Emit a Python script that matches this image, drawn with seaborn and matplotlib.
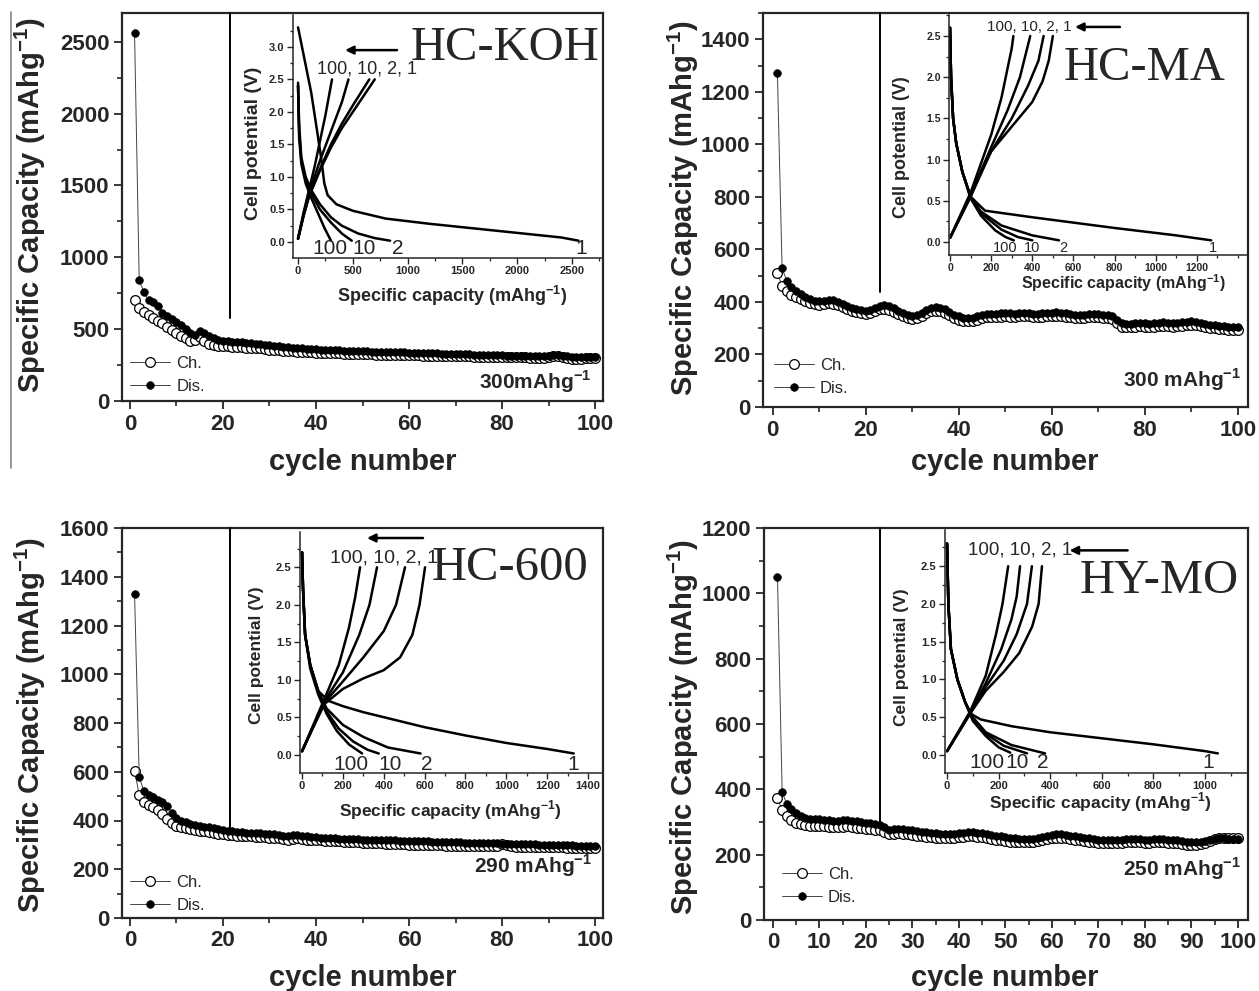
import numpy as np
import matplotlib
matplotlib.use('Agg')
import matplotlib.pyplot as plt
import seaborn as sns
from matplotlib.lines import Line2D
from matplotlib.ticker import MultipleLocator

sns.set_style('ticks')
plt.rcParams['font.family'] = ['Liberation Sans', 'DejaVu Sans']
plt.rcParams['font.weight'] = 'bold'
plt.rcParams['mathtext.fontset'] = 'custom'
plt.rcParams['mathtext.rm'] = 'Liberation Sans'
plt.rcParams['mathtext.bf'] = 'Liberation Sans:bold'

# cycle numbers
cycles = np.arange(1, 101)

# HC-KOH (top left)
koh_dis = [2560, 840, 760, 700, 690, 660, 610, 590, 570, 550,
           530, 500, 470, 460, 490, 470, 450, 435, 425, 420,
           416, 413, 410, 408, 405, 402, 400, 397, 392, 388,
           385, 380, 377, 373, 370, 368, 366, 364, 362, 360,
           358, 356, 355, 354, 352, 350, 349, 348, 347, 346,
           345, 344, 343, 343, 342, 341, 340, 339, 338, 337,
           336, 335, 334, 333, 332, 331, 330, 329, 328, 327,
           326, 325, 324, 323, 322, 321, 320, 319, 318, 317,
           316, 315, 314, 313, 313, 312, 311, 311, 310, 312,
           318, 320, 316, 312, 308, 306, 305, 304, 305, 306]
koh_ch = [700, 650, 620, 600, 580, 560, 540, 515, 495, 475,
          455, 435, 420, 425, 445, 420, 400, 390, 385, 382,
          380, 378, 376, 374, 372, 370, 368, 366, 362, 358,
          355, 352, 350, 348, 346, 344, 342, 340, 338, 336,
          335, 334, 333, 332, 331, 330, 329, 328, 327, 326,
          325, 324, 323, 323, 322, 321, 320, 320, 319, 318,
          318, 317, 316, 316, 315, 314, 314, 313, 312, 312,
          311, 310, 310, 309, 308, 308, 307, 306, 306, 305,
          305, 304, 304, 303, 303, 302, 302, 301, 301, 303,
          310, 314, 306, 298, 292, 290, 292, 296, 300, 302]

# HC-MA (top right)
ma_dis = [1270, 530, 480, 455, 440, 430, 420, 412, 405, 402,
          405, 408, 406, 400, 392, 385, 378, 372, 368, 366,
          370, 378, 385, 388, 384, 376, 366, 358, 352, 348,
          350, 358, 368, 376, 380, 378, 372, 362, 352, 345,
          340, 338, 340, 345, 350, 353, 355, 355, 356, 357,
          356, 355, 357, 358, 357, 355, 354, 356, 358, 359,
          360, 358, 356, 354, 352, 350, 352, 354, 355, 354,
          352, 350, 348, 330, 318, 315, 316, 318, 320, 318,
          316, 318, 320, 322, 320, 318, 320, 322, 325, 326,
          324, 320, 316, 314, 312, 310, 308, 306, 305, 304]
ma_ch = [510, 460, 440, 428, 418, 410, 402, 396, 392, 390,
         392, 395, 393, 388, 380, 373, 366, 360, 356, 354,
         357, 365, 372, 375, 371, 363, 354, 346, 340, 336,
         338, 346, 356, 364, 367, 365, 359, 349, 340, 333,
         328, 326, 328, 333, 338, 341, 343, 343, 344, 345,
         344, 343, 345, 346, 345, 343, 342, 344, 346, 347,
         348, 346, 344, 342, 340, 338, 340, 342, 343, 342,
         340, 338, 336, 318, 306, 303, 304, 306, 308, 306,
         304, 306, 308, 310, 308, 306, 308, 310, 313, 314,
         312, 308, 304, 302, 300, 298, 296, 294, 293, 292]

# HC-600 (bottom left)
hc600_dis = [1330, 580, 520, 505, 495, 485, 475, 460, 432, 410,
             400, 392, 386, 381, 378, 375, 372, 368, 365, 362,
             358, 356, 354, 352, 350, 349, 348, 347, 346, 345,
             344, 342, 338, 335, 340, 342, 338, 335, 333, 332,
             330, 329, 328, 327, 326, 325, 325, 324, 323, 322,
             322, 321, 320, 320, 319, 318, 318, 317, 316, 316,
             315, 315, 314, 314, 313, 312, 312, 311, 311, 310,
             310, 309, 309, 308, 308, 307, 307, 306, 306, 305,
             305, 304, 304, 303, 303, 302, 302, 301, 301, 300,
             300, 299, 299, 298, 298, 297, 297, 296, 296, 296]
hc600_ch = [605, 505, 475, 465, 455, 442, 428, 405, 388, 378,
            372, 368, 364, 360, 358, 355, 352, 349, 346, 344,
            342, 340, 338, 337, 336, 335, 334, 333, 332, 330,
            329, 328, 326, 322, 326, 330, 325, 322, 320, 319,
            318, 317, 316, 315, 314, 313, 312, 311, 310, 309,
            308, 307, 306, 306, 305, 304, 303, 303, 302, 301,
            301, 300, 300, 299, 299, 298, 298, 297, 297, 296,
            296, 296, 295, 295, 295, 294, 294, 294, 296, 302,
            298, 294, 293, 293, 292, 292, 292, 291, 291, 291,
            290, 290, 290, 289, 289, 289, 289, 288, 288, 288]

# HY-MO (bottom right)
hymo_dis = [1050, 392, 355, 340, 328, 318, 312, 310, 310, 308,
            306, 305, 304, 303, 305, 306, 304, 302, 300, 298,
            296, 294, 292, 285, 275, 278, 280, 278, 276, 274,
            272, 270, 268, 267, 265, 264, 263, 262, 263, 265,
            266, 268, 268, 267, 265, 263, 260, 258, 256, 254,
            252, 250, 249, 248, 248, 249, 252, 255, 258, 260,
            262, 262, 260, 258, 256, 254, 252, 250, 248, 246,
            245, 244, 244, 245, 246, 247, 248, 248, 247, 246,
            246, 247, 248, 247, 246, 245, 244, 242, 240, 238,
            238, 240, 243, 246, 248, 250, 250, 249, 248, 248]
hymo_ch = [372, 338, 318, 305, 298, 293, 290, 289, 289, 288,
           287, 286, 285, 284, 286, 287, 285, 283, 281, 280,
           278, 276, 274, 268, 262, 264, 266, 264, 262, 260,
           258, 256, 255, 254, 252, 251, 250, 250, 252, 254,
           255, 256, 256, 255, 253, 251, 248, 246, 244, 242,
           240, 239, 238, 238, 238, 240, 243, 246, 249, 251,
           252, 252, 250, 248, 246, 244, 242, 240, 238, 237,
           236, 235, 235, 236, 237, 238, 239, 239, 238, 237,
           237, 238, 239, 238, 237, 236, 235, 233, 231, 230,
           230, 232, 236, 242, 248, 252, 252, 250, 250, 250]

# inset voltage profiles: (capacity mAh/g, potential V), cycles 1, 2, 10, 100
koh_d1 = [(0, 3.3), (60, 2.8), (120, 2.3), (170, 1.75), (210, 1.3), (240, 0.9), (270, 0.72),
          (350, 0.58), (500, 0.48), (800, 0.36), (1200, 0.28), (1600, 0.21), (2000, 0.14),
          (2400, 0.07), (2560, 0.02)]
koh_d2 = [(0, 2.45), (10, 1.8), (30, 1.3), (70, 1.0), (120, 0.8), (200, 0.58), (300, 0.38),
          (400, 0.25), (550, 0.13), (700, 0.06), (840, 0.02)]
koh_d10 = [(0, 2.4), (10, 1.7), (30, 1.25), (70, 0.95), (120, 0.75), (200, 0.5), (300, 0.3),
           (400, 0.13), (490, 0.02)]
koh_d100 = [(0, 2.4), (10, 1.6), (30, 1.2), (70, 0.9), (120, 0.68), (180, 0.45), (240, 0.22),
            (300, 0.02)]
koh_c1 = [(0, 0.05), (50, 0.4), (100, 0.7), (200, 1.1), (300, 1.45), (400, 1.75), (500, 2.0),
          (600, 2.25), (700, 2.5)]
koh_c2 = [(0, 0.05), (50, 0.4), (100, 0.7), (200, 1.12), (300, 1.5), (400, 1.82), (500, 2.1),
          (650, 2.5)]
koh_c10 = [(0, 0.05), (50, 0.42), (100, 0.75), (200, 1.25), (300, 1.7), (400, 2.15), (460, 2.5)]
koh_c100 = [(0, 0.05), (50, 0.45), (100, 0.8), (150, 1.15), (200, 1.55), (250, 1.95), (310, 2.5)]

ma_d1 = [(0, 2.6), (5, 2.0), (15, 1.5), (30, 1.2), (60, 0.85), (100, 0.55), (170, 0.38),
         (400, 0.3), (800, 0.17), (1100, 0.08), (1270, 0.02)]
ma_d2 = [(0, 2.6), (5, 2.0), (15, 1.5), (30, 1.2), (60, 0.85), (100, 0.55), (150, 0.37),
         (250, 0.2), (400, 0.08), (530, 0.02)]
ma_d10 = [(0, 2.6), (5, 2.0), (15, 1.5), (30, 1.2), (60, 0.85), (100, 0.55), (150, 0.35),
          (250, 0.15), (330, 0.06), (400, 0.02)]
ma_d100 = [(0, 2.6), (5, 2.0), (15, 1.5), (30, 1.2), (60, 0.85), (100, 0.53), (150, 0.32),
           (220, 0.14), (270, 0.06), (310, 0.02)]
ma_c1 = [(0, 0.05), (50, 0.3), (100, 0.55), (150, 0.85), (200, 1.1), (300, 1.4), (400, 1.7),
         (450, 1.95), (480, 2.2), (500, 2.5)]
ma_c2 = [(0, 0.05), (100, 0.55), (200, 1.1), (300, 1.5), (380, 1.9), (430, 2.2), (455, 2.5)]
ma_c10 = [(0, 0.05), (100, 0.57), (200, 1.15), (280, 1.6), (340, 2.0), (390, 2.5)]
ma_c100 = [(0, 0.05), (100, 0.6), (200, 1.3), (250, 1.75), (300, 2.35), (308, 2.5)]

hc600_d1 = [(0, 2.7), (5, 2.2), (15, 1.6), (40, 1.2), (80, 0.85), (130, 0.72), (200, 0.65),
            (300, 0.57), (450, 0.47), (600, 0.37), (800, 0.26), (1000, 0.16), (1200, 0.08),
            (1330, 0.02)]
hc600_d2 = [(0, 2.7), (5, 2.2), (15, 1.6), (40, 1.2), (80, 0.85), (120, 0.62), (200, 0.4),
            (300, 0.24), (420, 0.1), (580, 0.02)]
hc600_d10 = [(0, 2.7), (5, 2.2), (15, 1.6), (40, 1.2), (80, 0.82), (120, 0.58), (180, 0.35),
             (250, 0.18), (320, 0.07), (375, 0.02)]
hc600_d100 = [(0, 2.7), (5, 2.2), (15, 1.6), (40, 1.15), (80, 0.8), (120, 0.55), (170, 0.32),
              (230, 0.14), (294, 0.02)]
hc600_c1 = [(0, 0.05), (60, 0.4), (110, 0.68), (200, 0.88), (300, 1.02), (400, 1.13), (480, 1.3),
            (540, 1.6), (575, 2.0), (602, 2.5)]
hc600_c2 = [(0, 0.05), (110, 0.7), (200, 0.98), (300, 1.3), (400, 1.65), (460, 2.0), (504, 2.5)]
hc600_c10 = [(0, 0.05), (110, 0.72), (200, 1.1), (280, 1.6), (330, 2.0), (367, 2.5)]
hc600_c100 = [(0, 0.05), (110, 0.75), (180, 1.2), (230, 1.7), (260, 2.1), (284, 2.5)]

hymo_d1 = [(0, 2.8), (5, 2.0), (15, 1.4), (40, 1.0), (70, 0.7), (90, 0.55), (130, 0.47),
           (250, 0.38), (400, 0.3), (600, 0.22), (800, 0.14), (1000, 0.05), (1050, 0.02)]
hymo_d2 = [(0, 2.8), (5, 2.0), (15, 1.4), (40, 1.0), (70, 0.7), (100, 0.5), (150, 0.3),
           (250, 0.13), (380, 0.02)]
hymo_d10 = [(0, 2.8), (5, 2.0), (15, 1.4), (40, 1.0), (70, 0.7), (100, 0.48), (150, 0.28),
            (220, 0.12), (310, 0.02)]
hymo_d100 = [(0, 2.8), (5, 2.0), (15, 1.4), (40, 1.0), (70, 0.7), (100, 0.45), (150, 0.25),
             (200, 0.1), (245, 0.03)]
hymo_c1 = [(0, 0.05), (90, 0.55), (150, 0.85), (220, 1.1), (280, 1.35), (330, 1.7), (355, 2.0),
           (368, 2.5)]
hymo_c2 = [(0, 0.05), (90, 0.55), (150, 0.9), (220, 1.25), (270, 1.6), (310, 2.0), (329, 2.5)]
hymo_c10 = [(0, 0.05), (90, 0.56), (150, 0.95), (210, 1.4), (250, 1.8), (270, 2.1), (283, 2.5)]
hymo_c100 = [(0, 0.05), (90, 0.58), (150, 1.05), (190, 1.6), (215, 2.0), (237, 2.5)]

W, H = 1259.0, 991.0
fig = plt.figure(figsize=(12.59, 9.91), dpi=100)


def px_axes(l, t, r, b):
    return fig.add_axes([l / W, 1 - b / H, (r - l) / W, (b - t) / H])


def fig_text(x, y, s, **kw):
    fig.text(x / W, 1 - y / H, s, **kw)


def main_panel(rect, xlim, ch, dis, ylim, ymaj, xmaj, rate, rate_xy, leg_xy):
    ax = px_axes(*rect)
    sns.lineplot(x=cycles, y=ch, ax=ax, sort=False, estimator=None, color='#444444', lw=0.7,
                 marker='o', ms=7, mfc='white', mec='black', mew=0.9, label='Ch.')
    sns.lineplot(x=cycles, y=dis, ax=ax, sort=False, estimator=None, color='#444444', lw=0.7,
                 marker='o', ms=5.5, mfc='black', mec='black', mew=0.5, label='Dis.')
    ax.set_xlim(*xlim)
    ax.set_ylim(*ylim)
    ax.set_xticks(np.arange(0, 101, xmaj))
    ax.xaxis.set_minor_locator(MultipleLocator(xmaj / 2))
    ax.set_yticks(np.arange(0, ylim[1] + 1, ymaj))
    ax.yaxis.set_minor_locator(MultipleLocator(ymaj / 2))
    ax.tick_params(which='major', direction='out', length=6, width=1.3, labelsize=16, pad=3)
    ax.tick_params(which='minor', direction='out', length=3.5, width=1.2)
    for sp in ax.spines.values():
        sp.set_linewidth(1.6)
        sp.set_visible(True)
    ax.set_xlabel('')
    ax.set_ylabel('')
    ax.text(rate_xy[0], rate_xy[1], rate, transform=ax.transAxes, ha='right', va='center',
            fontsize=15, fontweight='bold')
    ax.legend(loc='lower left', bbox_to_anchor=leg_xy, frameon=False, borderpad=0,
              handlelength=2.4, handletextpad=0.35, labelspacing=0.45,
              prop={'size': 12, 'weight': 'normal'})
    return ax


def draw_curve(ax, pts, lw=1.8):
    sns.lineplot(x=[p[0] for p in pts], y=[p[1] for p in pts], ax=ax, sort=False,
                 estimator=None, color='black', lw=lw)


def inset(rect, xlim, ylim, xmaj, curves, ylab_xy, xlab_xy, ylab_size, xlab_size, tick_size):
    ax = px_axes(*rect)
    ax.set_facecolor('none')
    for c in curves:
        draw_curve(ax, c)
    ax.set_xlim(*xlim)
    ax.set_ylim(*ylim)
    ax.set_xticks(np.arange(0, xlim[1] - xmaj * 0.3, xmaj))
    ax.xaxis.set_minor_locator(MultipleLocator(xmaj / 2))
    ax.set_yticks(np.arange(0, ylim[1] - 0.2, 0.5))
    ax.yaxis.set_minor_locator(MultipleLocator(0.25))
    ax.tick_params(which='major', direction='out', length=4, width=1.0, labelsize=tick_size, pad=2)
    ax.tick_params(which='minor', direction='out', length=2, width=0.9)
    ax.set_yticklabels(['%.1f' % v for v in ax.get_yticks()])
    ax.spines['top'].set_visible(False)
    ax.spines['right'].set_visible(False)
    for s in ('left', 'bottom'):
        ax.spines[s].set_linewidth(1.1)
    ax.set_xlabel('')
    ax.set_ylabel('')
    fig_text(ylab_xy[0], ylab_xy[1], 'Cell potential (V)', rotation=90, ha='center', va='center',
             fontsize=ylab_size, fontweight='bold')
    fig_text(xlab_xy[0], xlab_xy[1], r'Specific capacity (mAhg$^{\mathbf{-1}}$)', ha='center',
             va='center', fontsize=xlab_size, fontweight='bold')
    return ax


# main panels
ax1 = main_panel((122, 13, 603, 401), (-1.7, 101.7), koh_ch, koh_dis, (0, 2700), 500, 20,
                 r'300mAhg$^{\mathbf{-1}}$', (0.975, 0.05), (0.0, -0.003))
ax2 = main_panel((763, 13, 1248, 407), (-2.1, 102.2), ma_ch, ma_dis, (0, 1500), 200, 20,
                 r'300 mAhg$^{\mathbf{-1}}$', (0.985, 0.07), (0.006, 0.008))
ax3 = main_panel((122, 528, 603, 918), (-1.7, 101.7), hc600_ch, hc600_dis, (0, 1600), 200, 20,
                 r'290 mAhg$^{\mathbf{-1}}$', (0.978, 0.135), (0.0, -0.008))
ax4 = main_panel((764, 528, 1248, 920), (-1.9, 102.2), hymo_ch, hymo_dis, (0, 1200), 200, 10,
                 r'250 mAhg$^{\mathbf{-1}}$', (0.985, 0.13), (0.02, 0.018))

for (x, y) in [(30, 205), (683, 208), (30, 725), (683, 727)]:
    fig_text(x, y, r'Specific Capacity (mAhg$^{\mathbf{-1}}$)', rotation=90, ha='center',
             va='center', fontsize=21, fontweight='bold')
for (x, y) in [(363, 462), (1005, 462), (363, 978), (1005, 978)]:
    fig_text(x, y, 'cycle number', ha='center', va='center', fontsize=21, fontweight='bold')

# insets
i1 = inset((293, 15, 603, 258), (-46, 2783), (-0.246, 3.49), 500,
           [koh_d1, koh_d2, koh_d10, koh_d100, koh_c1, koh_c2, koh_c10, koh_c100],
           (253, 143), (452, 296), 14, 13, 8)
i2 = inset((949, 15, 1248, 255), (-5, 1449), (-0.158, 2.755), 200,
           [ma_d1, ma_d2, ma_d10, ma_d100, ma_c1, ma_c2, ma_c10, ma_c100],
           (902, 147), (1123, 283), 13, 11.5, 7.5)
i3 = inset((300, 532, 603, 773), (-10, 1473), (-0.24, 2.97), 200,
           [hc600_d1, hc600_d2, hc600_d10, hc600_d100, hc600_c1, hc600_c2, hc600_c10, hc600_c100],
           (257, 655), (450, 810), 12.5, 12.5, 8)
i4 = inset((945, 530, 1248, 773), (-8, 1167), (-0.24, 2.98), 200,
           [hymo_d1, hymo_d2, hymo_d10, hymo_d100, hymo_c1, hymo_c2, hymo_c10, hymo_c100],
           (902, 657), (1100, 802), 12.5, 12.5, 8)

# cycle labels and arrows in the insets
inset_notes = [
    (i1, (175, 2.66), 13, [('100', 292), ('10', 602), ('2', 912), ('1', 2582)], -0.1, 15, (903, 429, 2.95)),
    (i2, (180, 2.61), 11, [('100', 267), ('10', 398), ('2', 550), ('1', 1280)], -0.07, 10.5, (826, 608, 2.61)),
    (i3, (137, 2.63), 14, [('100', 240), ('10', 431), ('2', 612), ('1', 1327)], -0.13, 15, (592, 318, 2.89)),
    (i4, (81, 2.71), 13.5, [('100', 155), ('10', 271), ('2', 372), ('1', 1012)], -0.1, 15, (700, 475, 2.71)),
]
for ax, top_xy, top_size, bottom, by, bsize, arrow in inset_notes:
    ax.text(top_xy[0], top_xy[1], '100, 10, 2, 1', ha='left', va='center', fontsize=top_size,
            fontweight='normal')
    for s, bx in bottom:
        ax.text(bx, by, s, ha='center', va='center', fontsize=bsize, fontweight='normal')
    ax.annotate('', xy=(arrow[1], arrow[2]), xytext=(arrow[0], arrow[2]),
                arrowprops=dict(arrowstyle='-|>', lw=1.8, color='black', mutation_scale=12,
                                shrinkA=0, shrinkB=0), annotation_clip=False)

# sample names
for (x, y, s) in [(505, 60, 'HC-KOH'), (1145, 80, 'HC-MA'), (510, 580, 'HC-600'), (1159, 593, 'HY-MO')]:
    fig_text(x, y, s, ha='center', va='baseline', fontsize=35, fontweight='normal',
             family=['Liberation Serif', 'DejaVu Serif'])

# inset frames (left edge) and the page edge line
for (x, y0, y1) in [(230, 13, 318), (880, 13, 292), (230, 528, 828), (880, 528, 822)]:
    fig.add_artist(Line2D([x / W, x / W], [1 - y0 / H, 1 - y1 / H], color='black', lw=1.4))
fig.add_artist(Line2D([11 / W, 11 / W], [1 - 12 / H, 1 - 468 / H], color='#888888', lw=1.2))

fig.savefig('out.png', dpi=100)
